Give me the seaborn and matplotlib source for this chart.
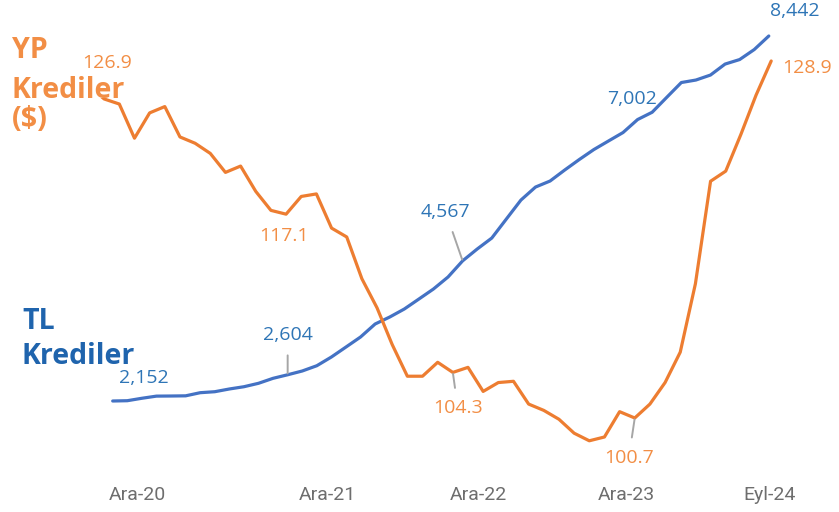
import matplotlib
matplotlib.use("Agg")
import matplotlib.pyplot as plt
from matplotlib.patches import Rectangle
import seaborn as sns
import numpy as np

# aylik seriler, Ara-20 .. Eyl-24 (46 ay)
tl_krediler = [2152, 2157, 2199, 2236, 2238, 2241, 2295, 2312, 2359, 2398,
               2457, 2543, 2604, 2669, 2760, 2910, 3082, 3255, 3479, 3599,
               3737, 3909, 4082, 4289, 4567, 4771, 4960, 5288, 5615, 5839,
               5943, 6132, 6313, 6485, 6632, 6778, 7002, 7128, 7385, 7640,
               7683, 7769, 7958, 8036, 8208, 8442]
yp_krediler = [126.9, 125.9, 125.5, 122.8, 124.8, 125.3, 122.9, 122.4, 121.6, 120.1,
               120.6, 118.6, 117.1, 116.8, 118.2, 118.4, 115.7, 115.0, 111.7, 109.4,
               106.5, 104.0, 104.0, 105.1, 104.3, 104.7, 102.8, 103.5, 103.6, 101.8,
               101.3, 100.6, 99.5, 98.9, 99.2, 101.2, 100.7, 101.8, 103.5, 105.9,
               111.3, 119.4, 120.2, 123.1, 126.2, 128.9]
etiketli_aylar = [0, 12, 24, 36, 45]
tick_labels = ["Ara-20", "Ara-21", "Ara-22", "Ara-23", "Eyl-24"]

ORANGE = "#ED7D31"
ORANGE_TXT = "#F28E45"
BLUE = "#4472C4"
BLUE_TXT = "#2E75B6"
BLUE_TITLE = "#1F64AD"
GREY = "#A6A6A6"

W, H = 839, 512
base_px = 480  # x ekseninin piksel yuksekligi

sns.set_style("white")
fig = plt.figure(figsize=(W / 100, H / 100), dpi=100)
rect = [0, (H - base_px) / H, 1, base_px / H]
ax_tl = fig.add_axes(rect)
ax_yp = fig.add_axes(rect)
ax_yp.patch.set_visible(False)

# iki seri ayri eksenlerde (Excel'deki ikincil eksen gibi)
x = np.arange(len(tl_krediler))
sns.lineplot(x=x, y=tl_krediler, ax=ax_tl, color=BLUE, linewidth=2.3)
sns.lineplot(x=x, y=yp_krediler, ax=ax_yp, color=ORANGE, linewidth=2.3)

# eksen olcekleri (piksel kalibrasyonu)
ax_tl.set_xlim(-112.7 / 14.58, (W - 112.7) / 14.58)
ax_tl.set_ylim(2152 - (base_px - 401) / 0.05803, 2152 + 401 / 0.05803)
ax_yp.set_xlim(-89 / 15.16, (W - 89) / 15.16)
ax_yp.set_ylim(100.7 - (base_px - 418) / 12.66, 100.7 + 418 / 12.66)

for a in (ax_tl, ax_yp):
    for s in a.spines.values():
        s.set_visible(False)
    a.set_yticks([])
    a.set_xlabel("")
    a.set_ylabel("")
ax_tl.set_xticks([])

tick_px = np.array([137.7, 327.6, 478.9, 626.5, 769.3])
ax_yp.set_xticks((tick_px - 89) / 15.16)
ax_yp.set_xticklabels(tick_labels)
ax_yp.tick_params(axis="x", length=0, pad=4.5, labelsize=14, labelcolor="#6E6E6E")
for lbl in ax_yp.get_xticklabels():
    lbl.set_fontfamily("Roboto")
    lbl.set_fontweight("normal")


def etiket(ax, i, y, text, dx, dy, color, leader=False):
    ap = None
    if leader:
        ap = dict(arrowstyle="-", color=GREY, lw=1.4, shrinkA=6, shrinkB=1)
    ax.annotate(text, (i, y), xytext=(dx, dy), textcoords="offset pixels",
                ha="center", va="center", color=color, fontsize=14,
                fontfamily="Open Sans", arrowprops=ap, zorder=6)


yp_off = {0: (18, 23, False), 12: (13, -26, False), 24: (5, -36, True),
          36: (-6, -40, True), 45: (36, -7, False)}
tl_off = {0: (31, 23, False), 12: (0, 40, True), 24: (-17, 49, True),
          36: (-6, 21, False), 45: (26, 25, False)}
for i in etiketli_aylar:
    dx, dy, ld = yp_off[i]
    etiket(ax_yp, i, yp_krediler[i], f"{yp_krediler[i]:.1f}", dx, dy, ORANGE_TXT, ld)
    dx, dy, ld = tl_off[i]
    etiket(ax_tl, i, tl_krediler[i], f"{tl_krediler[i]:,.0f}", dx, dy, BLUE_TXT, ld)

# "Krediler" metin kutusu cizginin basini ortuyor
ax_yp.add_patch(Rectangle((10 / W, 1 - 97.5 / H), 112 / W, 22 / H,
                          transform=fig.transFigure, facecolor="white",
                          edgecolor="none", zorder=3))

# seri basliklari
title_kw = dict(transform=fig.transFigure, fontfamily="Open Sans", fontweight="bold",
                fontsize=20.5, va="baseline", ha="left", zorder=4)
ax_yp.text(12 / W, 1 - 58 / H, "YP", color=ORANGE_TXT, **title_kw)
ax_yp.text(12 / W, 1 - 98 / H, "Krediler", color=ORANGE_TXT, **title_kw)
ax_yp.text(12 / W, 1 - 127 / H, "($)", color=ORANGE_TXT, **title_kw)
ax_yp.text(22 / W, 1 - 329 / H, "TL", color=BLUE_TITLE, **title_kw)
ax_yp.text(22 / W, 1 - 364 / H, "Krediler", color=BLUE_TITLE, **title_kw)

fig.savefig("out.png", dpi=100)
